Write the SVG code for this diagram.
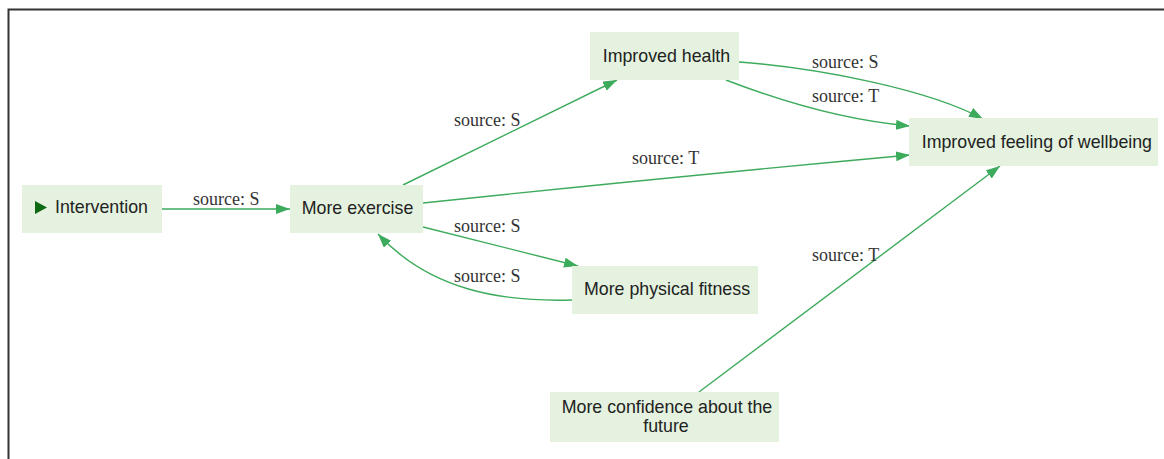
<svg xmlns="http://www.w3.org/2000/svg" width="1164" height="459" viewBox="0 0 1164 459">
<style>
.node rect{fill:#e4f2df}
.node text{font-family:"Liberation Sans",Arial,sans-serif;font-size:17.8px;fill:#222}
.edge path{fill:none;stroke:#3dab5c;stroke-width:1.4}
.lbl{font-family:"Liberation Serif","Times New Roman",serif;font-size:18px;fill:#333}
</style>
<defs>
<marker id="arr" markerUnits="userSpaceOnUse" markerWidth="15" markerHeight="11" refX="14" refY="5" orient="auto" viewBox="0 0 15 11">
<path d="M0,0 L14,5 L0,10 z" fill="#3dab5c"/>
</marker>
</defs>
<rect width="1164" height="459" fill="#fff"/>
<path d="M8.5,459 L8.5,9.5 L1164,9.5" fill="none" stroke="#333" stroke-width="2"/>
<g id="connectors" class="edge">
<path d="M162,209 L290,209" marker-end="url(#arr)"/>
<path d="M403,185 L617,80" marker-end="url(#arr)"/>
<path d="M423,203 Q660,178 910,155" marker-end="url(#arr)"/>
<path d="M423,227 L578,266" marker-end="url(#arr)"/>
<path d="M572,300 C500,302 430,290 378,234" marker-end="url(#arr)"/>
<path d="M739,62 C820,68 930,90 983,119" marker-end="url(#arr)"/>
<path d="M726,80 C770,97 840,120 910,126" marker-end="url(#arr)"/>
<path d="M699,392 L1000,166" marker-end="url(#arr)"/>
<text class="lbl" x="193" y="205">source: S</text>
<text class="lbl" x="454" y="125.5">source: S</text>
<text class="lbl" x="632" y="164">source: T</text>
<text class="lbl" x="454" y="231.5">source: S</text>
<text class="lbl" x="454" y="282">source: S</text>
<text class="lbl" x="812" y="67.5">source: S</text>
<text class="lbl" x="812" y="102">source: T</text>
<text class="lbl" x="812" y="260.5">source: T</text>
</g>
<g id="n-intervention" class="node">
<rect x="22" y="185" width="140" height="48"/>
<path d="M35,201 L47,207.5 L35,214 z" fill="#0d6a12"/>
<text x="55" y="213">Intervention</text>
</g>
<g id="n-exercise" class="node">
<rect x="290" y="185" width="133" height="48"/>
<text x="301.7" y="213.5">More exercise</text>
</g>
<g id="n-health" class="node">
<rect x="590" y="32" width="149" height="48"/>
<text x="602.7" y="61.7">Improved health</text>
</g>
<g id="n-wellbeing" class="node">
<rect x="909" y="118" width="249" height="48"/>
<text x="921.7" y="148">Improved feeling of wellbeing</text>
</g>
<g id="n-fitness" class="node">
<rect x="572" y="266" width="186" height="48"/>
<text x="584" y="294.8">More physical fitness</text>
</g>
<g id="n-confidence" class="node">
<rect x="550" y="392" width="229" height="50"/>
<text x="561.7" y="413">More confidence about the</text>
<text x="666" y="432" text-anchor="middle">future</text>
</g>
</svg>
